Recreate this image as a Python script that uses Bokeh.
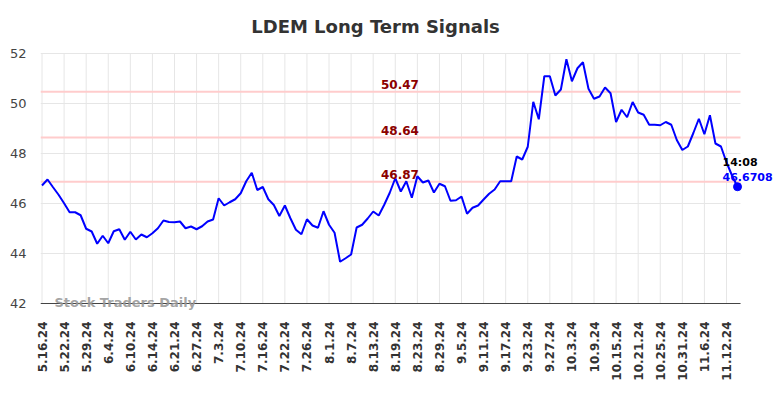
from bokeh.plotting import figure
from bokeh.models import Range1d, FixedTicker, Label
from bokeh.embed import file_html
from bokeh.resources import INLINE
import math

title = "LDEM Long Term Signals"
tick_labels = ["5.16.24", "5.22.24", "5.29.24", "6.4.24", "6.10.24", "6.14.24", "6.21.24", "6.27.24",
               "7.3.24", "7.10.24", "7.16.24", "7.22.24", "7.26.24", "8.1.24", "8.7.24", "8.13.24",
               "8.19.24", "8.23.24", "8.29.24", "9.5.24", "9.11.24", "9.17.24", "9.23.24", "9.27.24",
               "10.3.24", "10.9.24", "10.15.24", "10.21.24", "10.25.24", "10.31.24", "11.6.24", "11.12.24"]
prices = [46.72, 46.96, 46.65, 46.35, 46.01, 45.65, 45.65, 45.53, 44.99, 44.88,
          44.39, 44.71, 44.41, 44.89, 44.97, 44.55, 44.87, 44.56, 44.76, 44.65,
          44.81, 45.01, 45.32, 45.26, 45.25, 45.28, 45.01, 45.08, 44.97, 45.09,
          45.28, 45.36, 46.21, 45.92, 46.05, 46.17, 46.41, 46.89, 47.23, 46.54,
          46.66, 46.17, 45.94, 45.50, 45.92, 45.41, 44.95, 44.77, 45.37, 45.12,
          45.03, 45.69, 45.15, 44.83, 43.67, 43.81, 43.96, 45.04, 45.15, 45.40,
          45.68, 45.52, 45.95, 46.43, 47.01, 46.48, 46.89, 46.23, 47.09, 46.84,
          46.92, 46.44, 46.79, 46.69, 46.11, 46.13, 46.28, 45.59, 45.83, 45.92,
          46.16, 46.39, 46.56, 46.89, 46.89, 46.89, 47.88, 47.76, 48.27, 50.07,
          49.37, 51.09, 51.09, 50.32, 50.56, 51.77, 50.89, 51.41, 51.65, 50.59,
          50.19, 50.28, 50.64, 50.41, 49.26, 49.75, 49.45, 50.06, 49.64, 49.55,
          49.15, 49.15, 49.13, 49.26, 49.15, 48.54, 48.14, 48.28, 48.82, 49.39,
          48.77, 49.53, 48.40, 48.28, 47.65, 47.12, 46.6708]
levels = [50.47, 48.64, 46.87]
y_ticks = [42, 44, 46, 48, 50, 52]
last_time = "14:08"
last_value = "46.6708"
watermark = "Stock Traders Daily"
tick_step = 4

xs = list(range(len(prices)))
tick_pos = [i * tick_step for i in range(len(tick_labels))]

# layout: the frame covers the whole canvas except the axis-label strips,
# so texts that overflow the visible plot area are not clipped
W, H = 776, 390
BL, BB = 40, 80
PX_X, PX_Y = 5.52, 25.0          # pixels per data unit
fw, fh = W - BL, H - BB
X0 = -1.5 / PX_X
X1 = X0 + fw / PX_X
XE = X0 + 700 / PX_X             # right end of the visible plot area
Y0 = y_ticks[0] - 7 / PX_Y
Y1 = Y0 + fh / PX_Y

p = figure(width=W, height=H, output_backend="svg", toolbar_location=None,
           x_range=Range1d(X0, X1), y_range=Range1d(Y0, Y1),
           min_border_left=BL, min_border_right=0, min_border_top=0, min_border_bottom=BB)
p.outline_line_color = None
p.background_fill_color = "white"
p.border_fill_color = "white"
p.xgrid.grid_line_color = None
p.ygrid.grid_line_color = None

p.xaxis.ticker = FixedTicker(ticks=tick_pos)
p.xaxis.major_label_overrides = {t: l for t, l in zip(tick_pos, tick_labels)}
p.xaxis.major_label_orientation = math.pi / 2
p.xaxis.major_label_text_font = "DejaVu Sans"
p.xaxis.major_label_text_font_size = "12px"
p.xaxis.major_label_text_font_style = "bold"
p.xaxis.major_label_text_color = "#333333"
p.xaxis.major_tick_out = 0
p.xaxis.major_tick_in = 0
p.xaxis.minor_tick_out = 0
p.xaxis.minor_tick_in = 0
p.xaxis.major_label_standoff = 11
p.xaxis.axis_line_color = None

p.yaxis.ticker = FixedTicker(ticks=y_ticks)
p.yaxis.major_label_text_font = "DejaVu Sans"
p.yaxis.major_label_text_font_size = "13px"
p.yaxis.major_label_text_color = "#444444"
p.yaxis.axis_line_color = None
p.yaxis.major_tick_out = 0
p.yaxis.major_tick_in = 0
p.yaxis.minor_tick_out = 0
p.yaxis.minor_tick_in = 0
p.yaxis.major_label_standoff = 14

# grid lines limited to the visible plot area
p.segment(x0=[X0] * len(y_ticks), y0=y_ticks, x1=[XE] * len(y_ticks), y1=y_ticks,
          line_color="#e6e6e6", line_width=1)
p.segment(x0=tick_pos, y0=[y_ticks[0]] * len(tick_pos), x1=tick_pos, y1=[y_ticks[-1]] * len(tick_pos),
          line_color="#e6e6e6", line_width=1)

# signal levels
p.segment(x0=[X0] * len(levels), y0=levels, x1=[XE] * len(levels), y1=levels,
          line_color="#ffcccc", line_width=2)
for lv in levels:
    p.add_layout(Label(x=61.4, y=lv, text=f"{lv:.2f}", text_align="left", text_baseline="bottom",
                       y_offset=3, text_font="DejaVu Sans", text_font_size="12px",
                       text_font_style="bold", text_color="#8b0000"))

# bottom axis line
p.segment(x0=[X0], y0=[y_ticks[0]], x1=[XE], y1=[y_ticks[0]], line_color="#444444", line_width=1)

p.line(xs, prices, line_color="#0000ff", line_width=2)
p.scatter([xs[-1]], [prices[-1]], size=8, color="#0000ff")

p.add_layout(Label(x=xs[-1], y=prices[-1], text=last_time, x_offset=-15, y_offset=24,
                   text_align="left", text_baseline="middle", text_font="DejaVu Sans",
                   text_font_size="11px", text_font_style="bold", text_color="black"))
p.add_layout(Label(x=xs[-1], y=prices[-1], text=last_value, x_offset=-15, y_offset=10,
                   text_align="left", text_baseline="middle", text_font="DejaVu Sans",
                   text_font_size="11px", text_font_style="bold", text_color="#0000ff"))
p.add_layout(Label(x=2.26, y=y_ticks[0], text=watermark, y_offset=1,
                   text_align="left", text_baseline="middle",
                   text_font="DejaVu Sans", text_font_size="13px", text_font_style="bold",
                   text_color="#999999", text_alpha=0.9))
p.add_layout(Label(x=335, y=fh - 26, x_units="screen", y_units="screen", text=title,
                   text_align="center", text_baseline="middle",
                   text_font="DejaVu Sans", text_font_size="18px", text_font_style="bold",
                   text_color="#333333"))

open("out.html", "w").write(file_html(p, INLINE))
